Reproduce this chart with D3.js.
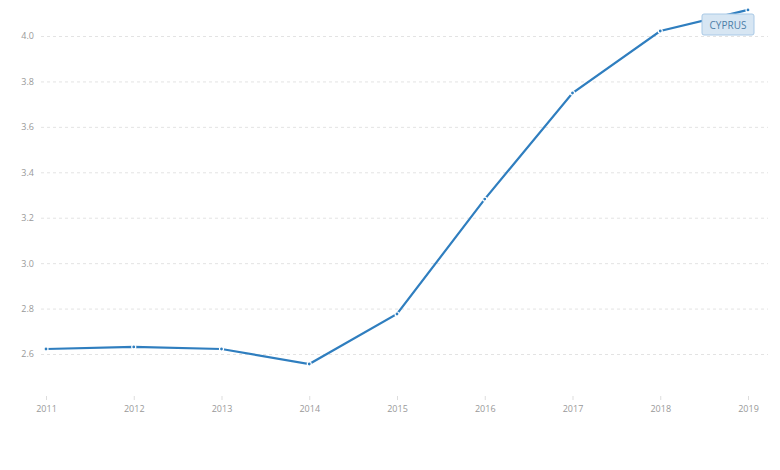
<!DOCTYPE html>
<html>
<head>
  <meta charset="utf-8"/>
  <title>Cyprus</title>
  <script src="https://d3js.org/d3.v7.min.js"></script>
  <style>
    body { margin: 0; background: #fff; }
    text { font-family: "Open Sans", "Noto Sans", sans-serif; }
  </style>
</head>
<body>
  <svg id="chart" width="780" height="470"></svg>
  <script>

  // values
  var years = [2011, 2012, 2013, 2014, 2015, 2016, 2017, 2018, 2019];
  var values = [2.622, 2.631, 2.622, 2.556, 2.776, 3.282, 3.749, 4.022, 4.115];
  var yTicks = [2.6, 2.8, 3.0, 3.2, 3.4, 3.6, 3.8, 4.0];
  var seriesName = "CYPRUS";

  var svg = d3.select("#chart");

  var x = d3.scalePoint()
    .domain(years)
    .range([46, 748]);

  var y = d3.scaleLinear()
    .domain([2.6, 4.0])
    .range([354, 36]);

  //grid lines + y labels:
  var yAxis = svg.append("g")
    .attr("transform", "translate(41,0)")
    .call(d3.axisLeft(y).tickValues(yTicks).tickSize(-727).tickPadding(7).tickFormat(d3.format(".1f")));
  yAxis.select(".domain").remove();
  yAxis.selectAll(".tick line")
    .attr("stroke", "#e3e3e3")
    .attr("stroke-dasharray", "3,3");
  yAxis.selectAll(".tick text")
    .attr("fill", "#999")
    .attr("font-size", "9px");

  //x axis:
  var xAxis = svg.append("g")
    .attr("transform", "translate(0,396)")
    .call(d3.axisBottom(x).tickSize(4).tickPadding(6).tickFormat(d3.format("d")));
  xAxis.select(".domain").remove();
  xAxis.selectAll(".tick line").attr("stroke", "#ddd");
  xAxis.selectAll(".tick text")
    .attr("fill", "#999")
    .attr("font-size", "9px");

  var data = years.map(function (d, i) { return { year: d, value: values[i] }; });

  var line = d3.line()
    .x(function (d) { return x(d.year); })
    .y(function (d) { return y(d.value); });

  svg.append("path")
    .datum(data)
    .attr("fill", "none")
    .attr("stroke", "#2f7ebf")
    .attr("stroke-width", 2.2)
    .attr("d", line);

  svg.selectAll(".pt")
    .data(data)
    .enter().append("circle")
    .attr("class", "pt")
    .attr("cx", function (d) { return x(d.year); })
    .attr("cy", function (d) { return y(d.value); })
    .attr("r", 2)
    .attr("fill", "#2f7ebf")
    .attr("stroke", "#fff")
    .attr("stroke-width", 1.2);

  //series label:
  var lab = svg.append("g").attr("transform", "translate(702,14)");
  lab.append("rect")
    .attr("width", 52)
    .attr("height", 21)
    .attr("rx", 2)
    .attr("fill", "#d7e6f3")
    .attr("stroke", "#a9c9e6");
  lab.append("text")
    .attr("x", 26)
    .attr("y", 14.5)
    .attr("text-anchor", "middle")
    .attr("font-size", "10px")
    .attr("fill", "#4d7ea8")
    .text(seriesName);

  </script>
</body>
</html>
